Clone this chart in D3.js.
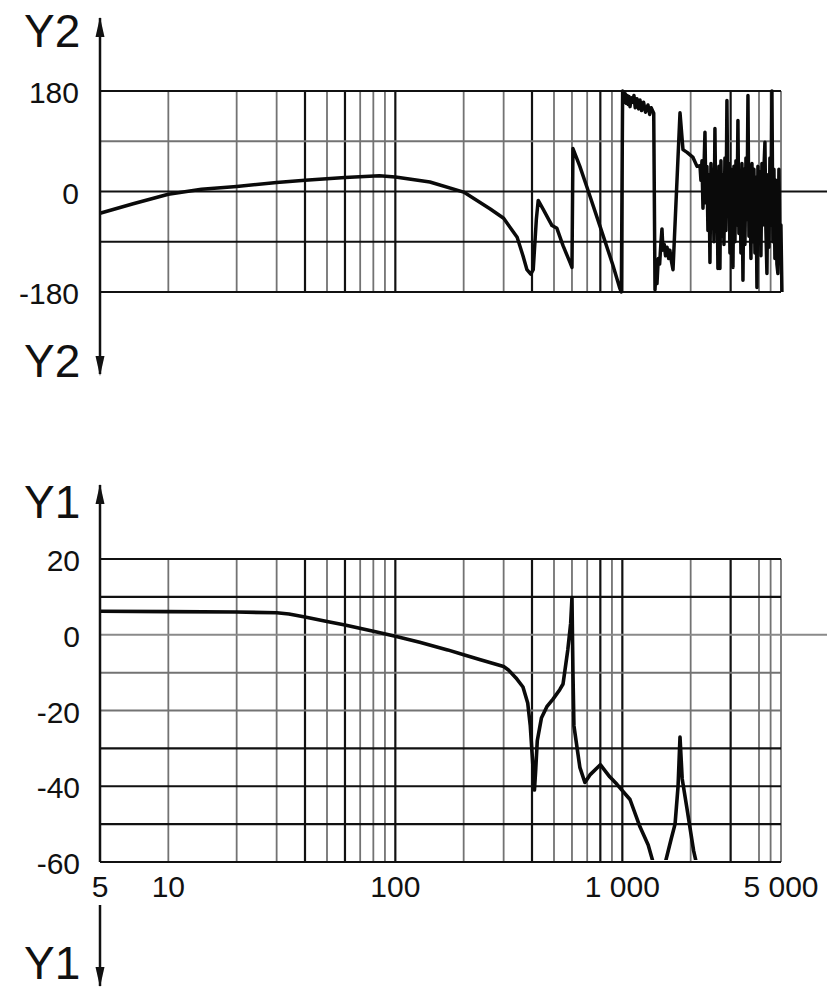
<!DOCTYPE html>
<html>
<head>
<meta charset="utf-8">
<script src="https://cdn.jsdelivr.net/npm/d3@7"></script>
<style>
  html, body { margin: 0; padding: 0; background: #fff; }
  svg { display: block; }
  text { font-family: "Liberation Sans", Arial, sans-serif; fill: #111; }
</style>
</head>
<body>
<svg id="chart" width="827" height="991"></svg>
<script>
// ---------- data ----------
const freqTickValues = [5, 10, 100, 1000, 5000];
const freqTickLabels = ["5", "10", "100", "1 000", "5 000"];
const gridFreqs = [10, 20, 30, 40, 50, 60, 70, 80, 90, 100, 200, 300, 400, 500, 600, 700, 800, 900, 1000, 2000, 3000, 4000, 4500, 5000];
const majorGridFreqs = [40, 60, 100, 400, 800, 1000, 3000];

const phaseTickValues = [180, 0, -180];
const phaseGrid = [180, 90, 0, -90, -180];
const phaseMajorGrid = [180, 0, -90, -180];

const magTickValues = [20, 0, -20, -40, -60];
const magGrid = [20, 10, 0, -10, -20, -30, -40, -50, -60];
const magMajorGrid = [20, 10, -30, -40, -50, -60];

// Y2 : phase (deg) vs frequency (Hz)
const phaseFreq = [5, 7, 10, 14, 20, 30, 40, 60, 85, 100, 142, 200, 261, 300, 344, 365, 380, 395, 405, 418, 426, 447, 490, 515, 548, 588, 600,
  606, 650, 698, 797, 909, 976, 990,
  1003, 1010, 1017, 1024, 1031, 1040, 1050, 1060, 1070, 1081, 1095, 1110, 1125, 1140, 1160, 1180, 1196, 1215, 1240, 1265, 1297, 1320, 1340, 1375,
  1393, 1405, 1421, 1440, 1460, 1480, 1495, 1510, 1530, 1550, 1574, 1600, 1620, 1645, 1672,
  1795, 1850, 1928, 2048, 2133,
  2198, 2220, 2243, 2266, 2289, 2312, 2336, 2359, 2383, 2408, 2432, 2457, 2482, 2507, 2533, 2558, 2584, 2611, 2637, 2664,
  2691, 2719, 2746, 2774, 2803, 2831, 2860, 2889, 2919, 2948, 2979, 3009, 3040, 3071, 3102, 3134, 3166, 3198, 3230, 3263,
  3297, 3330, 3364, 3399, 3433, 3468, 3504, 3540, 3576, 3612, 3649, 3686, 3724, 3762, 3800, 3839, 3878, 3917, 3957, 3997,
  4038, 4079, 4121, 4163, 4205, 4248, 4291, 4335, 4379, 4424, 4469, 4514, 4560, 4607, 4654, 4701, 4749, 4797, 4846, 4896,
  4946, 4996, 5047];
const phaseDeg = [-39, -22, -5, 4, 9, 16, 20, 25, 28, 26, 17, -1, -31, -48, -82, -115, -140, -148, -140, -50, -16, -31, -61, -66, -97, -127, -136,
  77, 45, 8, -62, -132, -174, -180,
  180, 164, 178, 160, 175, 158, 172, 156, 170, 152, 168, 160, 172, 150, 166, 148, 164, 145, 160, 142, 155, 138, 150, 140,
  -176, -140, -165, -120, -130, -90, -67, -105, -95, -115, -100, -120, -105, -125, -140,
  141, 75, 70, 61, 45,
  46, 20, 55, -30, 40, 106, -20, 45, -70, 30, -127, 50, -60, 40, -90, 113, -50, 35, -138, 45,
  -138, 55, -80, 30, -95, 60, -70, 163, -40, 50, -110, 40, -85, -136, 45, -90, 55, -60, 127, -75,
  35, -110, 50, -159, 40, -95, 60, -50, 172, -80, 30, -120, 50, -90, 40, -110, 25, -172, 45, -80,
  35, -115, 50, -60, 40, 88, -70, -147, 30, -100, 60, -60, 180, -90, 40, -120, 20, -130, -147, 40,
  -110, -60, -180];

// Y1 : magnitude (dB) vs frequency (Hz)
const magFreq = [5, 10, 20, 30, 34, 40, 50, 60, 80, 100, 128, 170, 200, 237, 300, 315, 340, 365, 383, 393, 402, 410, 415, 422, 440, 465, 495, 530, 548, 575, 592, 600,
  606, 612, 650, 684, 720, 800, 880, 947, 1081, 1196, 1300, 1365, 1420, 1500, 1541, 1640, 1707, 1760, 1795, 1835, 1928, 2060, 2133];
const magDb = [6.2, 6.1, 6.0, 5.8, 5.5, 4.7, 3.5, 2.6, 0.9, -0.4, -2.0, -4.0, -5.3, -6.6, -8.4, -9.3, -11.4, -13.8, -18, -24, -33, -41, -36, -28, -22, -19, -17, -14.5, -13, -4, 3, 9.8,
  -10, -24, -35, -39, -37, -34.3, -37.5, -39.5, -43.5, -50.7, -55.5, -60, -63, -64, -60.5, -54, -50, -40, -27, -38, -46, -57, -61];

// ---------- drawing ----------
const svg = d3.select("#chart");
const x = d3.scaleLog().domain([5, 5000]).range([100, 781]);
const yP = d3.scaleLinear().domain([-180, 180]).range([292, 91]);
const yM = d3.scaleLinear().domain([-60, 20]).range([862, 559]);

const DARK = "#111", GRAY = "#737373";

function drawPanel(g, y, yGrid, yMajor, top, bottom, zeroColor) {
  g.selectAll("line.v").data(gridFreqs).join("line")
    .attr("x1", d => x(d)).attr("x2", d => x(d))
    .attr("y1", top).attr("y2", bottom)
    .attr("stroke", d => majorGridFreqs.includes(d) ? DARK : GRAY)
    .attr("stroke-width", d => majorGridFreqs.includes(d) ? 2.2 : 1.8);
  g.selectAll("line.h").data(yGrid).join("line")
    .attr("x1", 100).attr("x2", d => d === 0 ? 827 : 781)
    .attr("y1", d => y(d)).attr("y2", d => y(d))
    .attr("stroke", d => d === 0 ? zeroColor : (yMajor.includes(d) ? DARK : GRAY))
    .attr("stroke-width", d => (yMajor.includes(d) || (d === 0 && zeroColor === DARK)) ? 2.2 : 2);
}

const gTop = svg.append("g");
drawPanel(gTop, yP, phaseGrid, phaseMajorGrid, yP(180), yP(-180), DARK);
const gBot = svg.append("g");
drawPanel(gBot, yM, magGrid, magMajorGrid, yM(20), yM(-60), "#8a8a8a");

const defs = svg.append("defs");
defs.append("clipPath").attr("id", "clipTop").append("rect")
  .attr("x", 95).attr("y", yP(180) - 3).attr("width", 700).attr("height", yP(-180) - yP(180) + 6);
defs.append("clipPath").attr("id", "clipBot").append("rect")
  .attr("x", 95).attr("y", yM(20) - 3).attr("width", 700).attr("height", yM(-60) - yM(20) + 1);

const phaseData = phaseFreq.map((f, i) => [f, phaseDeg[i]]);
const magData = magFreq.map((f, i) => [f, magDb[i]]);

svg.append("path").datum(phaseData)
  .attr("clip-path", "url(#clipTop)")
  .attr("fill", "none").attr("stroke", "#0a0a0a").attr("stroke-width", 3.5)
  .attr("stroke-linejoin", "round")
  .attr("d", d3.line().x(d => x(d[0])).y(d => yP(d[1])));

svg.append("path").datum(magData)
  .attr("clip-path", "url(#clipBot)")
  .attr("fill", "none").attr("stroke", "#0a0a0a").attr("stroke-width", 3.6)
  .attr("stroke-linejoin", "round")
  .attr("d", d3.line().x(d => x(d[0])).y(d => yM(d[1])));

function vAxis(y1, y2) {
  svg.append("line").attr("x1", 100).attr("x2", 100).attr("y1", y1).attr("y2", y2)
    .attr("stroke", DARK).attr("stroke-width", 2.5);
}
function arrow(tipY, dir) {
  const base = tipY - dir * 20;
  svg.append("path")
    .attr("d", `M100,${tipY} L95.5,${base} L104.5,${base} Z`)
    .attr("fill", DARK);
}
vAxis(18, 374); arrow(17, -1); arrow(376, 1);
vAxis(485, 862); arrow(484, -1);
vAxis(905, 986); arrow(987, 1);

function label(txt, xx, yy, size, anchor) {
  svg.append("text").attr("x", xx).attr("y", yy).attr("text-anchor", anchor)
    .attr("font-size", size).text(txt);
}
label("Y2", 24, 47, "46px", "start");
label("Y2", 24, 377, "46px", "start");
label("Y1", 24, 518, "46px", "start");
label("Y1", 24, 979, "46px", "start");

phaseTickValues.forEach(v => label(String(v), 79, yP(v) + 12, "30px", "end"));
magTickValues.forEach(v => label(String(v), 80, yM(v) + 12, "30px", "end"));
freqTickValues.forEach((v, i) => label(freqTickLabels[i], x(v), 897, "30px", "middle"));
</script>
</body>
</html>
